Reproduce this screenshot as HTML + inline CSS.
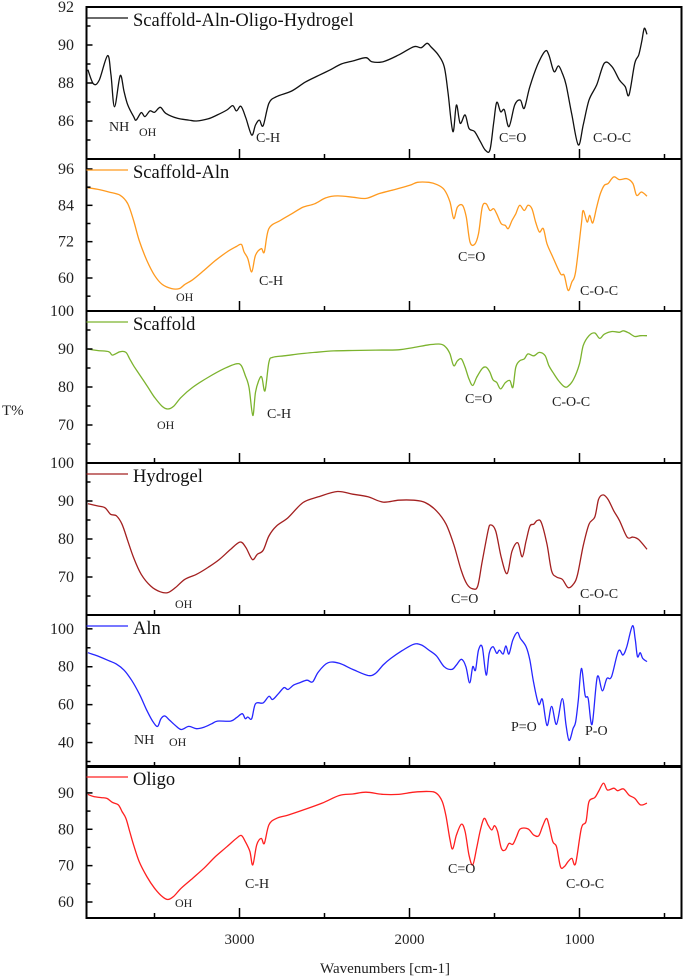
<!DOCTYPE html>
<html><head><meta charset="utf-8">
<style>
html,body{margin:0;padding:0;background:#fff;}
svg{display:block;font-family:"Liberation Serif",serif;}
</style></head>
<body>
<svg id="chart" width="685" height="978" viewBox="0 0 685 978" xmlns="http://www.w3.org/2000/svg"></svg>
<script>
// ---- data (wavenumber cm-1, transmittance %) ----
const names = ["Scaffold-Aln-Oligo-Hydrogel","Scaffold-Aln","Scaffold","Hydrogel","Aln","Oligo"];
const colors = ["#111111","#ff9a1f","#7cb32e","#a32020","#2626ff","#ff2020"];
const xTicksLabeled = [3000,2000,1000];

const wn1=[3892,3859,3825,3776,3756,3735,3702,3679,3657,3623,3608,3578,3556,3527,3500,3466,3433,3365,3298,3253,3186,3130,3074,3040,3018,2991,2962,2928,2906,2883,2861,2827,2783,2693,2614,2536,2469,2401,2334,2256,2222,2155,2065,1975,1931,1897,1875,1830,1796,1774,1745,1724,1702,1673,1650,1617,1583,1554,1527,1505,1487,1464,1442,1415,1381,1348,1325,1292,1247,1202,1180,1150,1124,1101,1079,1045,1007,978,944,899,854,809,765,731,709,675,652,634,619,603];
const t1=[88.7,87.95,88.16,89.44,88.42,86.75,88.39,87.54,86.84,86.23,86.05,86.44,86.23,86.53,86.46,86.72,86.4,86.14,86.05,86.0,86.11,86.32,86.58,86.81,86.53,86.77,86.14,85.26,85.79,86.05,85.75,86.93,87.28,87.58,88.04,88.39,88.68,89.0,89.16,89.33,89.12,89.12,89.47,89.91,89.86,90.09,89.91,89.47,88.86,87.54,85.44,86.84,85.88,86.32,85.61,85.44,84.91,84.47,84.47,85.88,86.98,86.49,86.58,85.7,86.84,87.1,86.67,87.81,88.95,89.68,89.47,88.6,88.9,88.51,87.9,86.32,84.74,85.79,87.1,87.9,89.04,88.86,88.16,87.81,87.37,89.04,89.47,90.18,90.88,90.56];

const wn2=[3892,3836,3769,3702,3657,3623,3590,3545,3500,3455,3399,3354,3321,3276,3209,3141,3074,3018,2989,2973,2951,2928,2906,2872,2854,2827,2760,2693,2626,2558,2491,2424,2334,2256,2177,2088,1998,1953,1886,1841,1796,1762,1740,1718,1688,1666,1644,1617,1594,1572,1549,1527,1505,1487,1460,1437,1419,1397,1375,1352,1325,1303,1280,1258,1236,1213,1191,1157,1112,1090,1067,1045,1023,989,978,955,940,922,899,877,854,832,798,765,720,686,664,635,603];
const t2=[89.8,89.3,88.4,87.3,84.5,79.0,72.4,65.8,60.9,57.9,56.5,56.5,57.9,59.4,62.5,65.8,68.6,70.4,71.1,68.6,66.4,62.0,67.5,69.7,68.6,76.3,79.0,81.2,83.4,84.5,86.5,87.1,86.7,86.3,87.9,89.2,90.6,91.6,91.6,90.9,89.2,85.1,79.6,83.4,84.0,80.1,71.9,71.1,74.6,83.4,84.5,82.3,82.9,81.2,77.9,77.4,76.3,79.0,81.2,84.0,82.3,84.0,82.9,78.5,75.2,76.3,71.3,66.9,61.4,60.9,55.9,58.7,62.0,77.9,82.3,78.5,80.7,78.2,83.4,87.9,90.6,91.2,93.4,92.5,92.8,91.2,87.3,88.4,87.0];

const wn3=[3892,3836,3769,3747,3702,3668,3646,3623,3590,3545,3500,3455,3422,3388,3343,3276,3186,3096,3018,2989,2966,2944,2922,2906,2883,2868,2850,2827,2805,2738,2648,2558,2446,2334,2200,2065,1975,1886,1818,1785,1762,1740,1718,1695,1673,1650,1628,1605,1572,1549,1527,1509,1487,1464,1437,1410,1392,1375,1352,1325,1303,1269,1236,1202,1180,1157,1124,1090,1067,1034,1000,978,944,910,881,854,809,765,742,709,675,641,603];
const t3=[90.0,89.6,89.3,88.4,89.3,89.1,87.4,85.6,83.4,80.4,77.3,74.9,74.2,74.9,77.3,79.9,82.5,84.7,86.1,85.6,83.0,79.9,72.5,78.6,82.1,82.5,79.0,86.5,87.8,88.2,88.7,89.1,89.5,89.6,89.7,89.8,90.4,91.1,91.3,90.4,88.7,85.6,86.9,87.4,85.2,82.1,80.4,82.5,84.9,85.2,83.9,81.9,81.2,79.5,81.1,81.7,79.9,85.2,86.9,87.4,88.7,88.2,89.1,88.2,85.6,83.9,81.7,80.1,80.2,82.1,86.1,90.9,93.5,94.2,92.8,93.9,94.6,94.4,94.8,94.2,93.3,93.5,93.5];

const wn4=[3892,3836,3791,3758,3724,3691,3657,3623,3578,3522,3466,3422,3377,3321,3253,3186,3119,3052,2996,2962,2924,2895,2861,2827,2783,2715,2626,2536,2424,2334,2244,2155,2065,1975,1908,1841,1785,1740,1695,1662,1628,1599,1572,1538,1523,1493,1460,1426,1397,1363,1337,1314,1292,1269,1247,1224,1191,1164,1135,1101,1067,1034,1011,978,944,910,888,861,832,798,765,720,686,653,603];
const t4=[89.3,88.7,88.2,86.5,86.1,83.9,79.5,75.1,70.7,67.6,66.1,65.9,67.2,69.4,70.7,72.5,74.6,77.3,79.2,77.7,74.6,76.0,77.0,80.8,83.4,85.6,89.6,91.1,92.5,91.8,91.1,89.7,90.2,90.2,89.6,87.4,83.9,78.6,71.6,68.1,66.9,67.6,74.2,82.1,83.7,82.1,75.1,70.9,76.8,79.0,75.3,79.5,83.4,83.9,84.9,84.3,78.6,71.6,70.0,69.4,67.2,68.2,70.7,78.2,83.9,85.8,90.4,91.6,90.4,87.4,84.9,80.5,80.5,79.9,77.3];

const wn5=[3892,3836,3769,3724,3679,3635,3590,3545,3511,3482,3462,3439,3410,3377,3343,3298,3253,3209,3164,3130,3052,3018,2984,2966,2951,2928,2906,2861,2827,2805,2771,2738,2715,2682,2648,2603,2570,2536,2480,2413,2334,2244,2200,2155,2110,2043,1975,1931,1886,1841,1796,1751,1724,1695,1668,1646,1628,1612,1594,1572,1549,1531,1509,1487,1471,1449,1433,1415,1392,1365,1348,1314,1292,1269,1240,1218,1191,1164,1135,1101,1079,1061,1038,1023,1007,989,967,949,926,895,866,839,812,771,744,722,688,672,659,643,628,603];
const t5=[87.4,85.7,83.2,81.4,78.2,72.9,65.8,57.0,51.3,48.5,52.6,54.0,51.7,49.0,46.9,48.5,47.3,48.1,49.9,51.3,51.3,53.1,55.2,52.6,53.5,52.6,60.5,60.9,64.4,62.7,65.8,69.0,68.0,70.3,71.5,72.9,72.0,77.3,82.1,81.8,78.6,75.4,76.5,80.9,84.4,88.5,91.9,91.5,88.8,85.7,80.0,78.6,80.9,83.9,80.0,71.5,80.0,78.2,88.8,90.3,75.6,87.1,90.6,87.1,88.8,86.7,91.0,86.7,94.2,98.1,95.0,90.6,83.5,71.2,60.2,62.7,49.0,59.1,49.6,63.2,49.0,41.1,47.3,50.8,62.3,79.1,65.0,63.2,49.6,74.7,67.3,73.8,74.7,88.3,86.2,90.6,101.6,94.2,85.3,87.4,84.4,82.7];

const wn6=[3892,3859,3814,3780,3747,3713,3691,3668,3646,3623,3590,3545,3500,3455,3422,3388,3343,3276,3209,3141,3074,3018,2989,2966,2939,2922,2899,2872,2854,2827,2783,2715,2626,2514,2413,2334,2256,2155,2065,1975,1886,1841,1807,1785,1762,1746,1724,1695,1673,1650,1628,1605,1583,1561,1538,1516,1500,1482,1460,1437,1415,1392,1370,1348,1303,1269,1240,1218,1195,1180,1157,1135,1112,1090,1067,1045,1023,989,962,944,910,888,859,836,798,776,742,709,675,641,603];
const t6=[89.6,89.0,88.7,88.5,87.4,86.7,84.9,83.0,79.4,75.7,71.1,67.0,63.8,61.5,60.7,61.5,63.8,66.5,69.3,72.5,75.2,77.5,78.3,76.6,73.9,70.2,75.7,77.5,76.1,81.2,83.0,83.9,85.3,87.2,89.3,89.7,90.2,89.6,89.6,90.2,90.4,89.9,87.6,83.5,77.1,74.6,78.4,81.4,79.4,72.9,70.2,74.8,79.8,83.0,81.2,79.8,81.0,79.4,74.8,74.3,76.1,75.9,78.0,80.1,80.1,78.4,78.2,80.7,83.0,81.2,76.6,75.2,69.7,69.7,71.1,72.0,70.6,80.3,82.1,87.6,88.7,90.4,92.7,90.8,91.3,90.6,91.1,89.4,88.5,86.7,87.2];

const yMajor1=[92,90,88,86], yMajor2=[96,84,72,60], yMajor3=[100,90,80,70], yMajor4=[100,90,80,70], yMajor5=[100,80,60,40], yMajor6=[90,80,70,60];
const yMinor1=[91,89,87,85], yMinor2=[90,78,66,54], yMinor3=[95,85,75,65], yMinor4=[95,85,75,65], yMinor5=[90,70,50,30], yMinor6=[85,75,65];

// ---- layout ----
const NS="http://www.w3.org/2000/svg";
const svg=document.getElementById('chart');
const X0=86.5, X1=681.5, WN0=3900, WN1=400;
const tops=[7,159,311,463,615,766];
const H=152;
const ranges=[[92,84],[99.3,49.1],[100,60],[100,60],[107.3,27.1],[97.4,55.6]];
const series=[[wn1,t1],[wn2,t2],[wn3,t3],[wn4,t4],[wn5,t5],[wn6,t6]];
const majors=[yMajor1,yMajor2,yMajor3,yMajor4,yMajor5,yMajor6];
const minors=[yMinor1,yMinor2,yMinor3,yMinor4,yMinor5,yMinor6];
function xs(w){return X0+(WN0-w)/(WN0-WN1)*(X1-X0);}
function ys(p,v){const r=ranges[p];return tops[p]+(r[0]-v)/(r[0]-r[1])*H;}
function mk(tag,attrs){const e=document.createElementNS(NS,tag);for(const k in attrs)e.setAttribute(k,attrs[k]);svg.appendChild(e);return e;}
function smoothPath(pts){
  let d='M'+pts[0][0].toFixed(1)+','+pts[0][1].toFixed(1);
  for(let i=0;i<pts.length-1;i++){
    const p0=pts[Math.max(0,i-1)],p1=pts[i],p2=pts[i+1],p3=pts[Math.min(pts.length-1,i+2)];
    const c1x=p1[0]+(p2[0]-p0[0])/6,c1y=p1[1]+(p2[1]-p0[1])/6;
    const c2x=p2[0]-(p3[0]-p1[0])/6,c2y=p2[1]-(p3[1]-p1[1])/6;
    d+='C'+c1x.toFixed(1)+','+c1y.toFixed(1)+' '+c2x.toFixed(1)+','+c2y.toFixed(1)+' '+p2[0].toFixed(1)+','+p2[1].toFixed(1);
  }
  return d;
}

const annots=[
 [["NH",109,131,14],["OH",139,136,12],["C-H",256,142,14],["C=O",499,142,14],["C-O-C",593,142,14]],
 [["OH",176,301,12],["C-H",259,285,14],["C=O",458,261,14],["C-O-C",580,295,14]],
 [["OH",157,429,12],["C-H",267,418,14],["C=O",465,403,14],["C-O-C",552,406,14]],
 [["OH",175,608,12],["C=O",451,603,14],["C-O-C",580,598,14]],
 [["NH",134,744,14],["OH",169,746,12],["P=O",511,731,14],["P-O",585,735,14]],
 [["OH",175,907,12],["C-H",245,888,14],["C=O",448,873,14],["C-O-C",566,888,14]]
];

for(let p=0;p<6;p++){
  const top=tops[p], bot=top+H;
  const [w,t]=series[p];
  const pts=w.map((wv,i)=>[xs(wv),ys(p,t[i])]);
  const path=mk('path',{d:smoothPath(pts),fill:'none',stroke:colors[p],'stroke-width':1.3,'stroke-linejoin':'round'});
  
  
  majors[p].forEach(v=>{
    const y=ys(p,v);
    const tk=mk('line',{x1:X0,x2:X0+6,y1:y,y2:y,stroke:'#000','stroke-width':1.5});
    
    
    const lb=mk('text',{x:74,y:y+5,'text-anchor':'end','font-size':16,fill:'#222'});
    lb.textContent=v;
    
    
  });
  minors[p].forEach(v=>{
    const y=ys(p,v);
    if(y<top+1||y>bot-1) return;
    const tk=mk('line',{x1:X0,x2:X0+4,y1:y,y2:y,stroke:'#000','stroke-width':1.5});
    
    
  });
  for(let wv=3500; wv>=500; wv-=500){
    const x=xs(wv), len=(wv%1000===0)?10:5;
    const tk=mk('line',{x1:x,x2:x,y1:bot,y2:bot-len,stroke:'#000','stroke-width':1.5});
    
    
  }
  const fr=mk('rect',{x:X0,y:top,width:X1-X0,height:H,fill:'none',stroke:'#000','stroke-width':2});
  
  
  const ll=mk('line',{x1:X0,x2:128,y1:top+11,y2:top+11,stroke:colors[p],'stroke-width':1.3});
  
  
  const lt=mk('text',{x:133,y:top+19,'font-size':18.5,fill:'#111'});
  lt.textContent=names[p];
  
  
  annots[p].forEach(a=>{
    const at=mk('text',{x:a[1],y:a[2],'font-size':a[3],fill:'#222'});
    at.textContent=a[0];
    
    
  });
}
xTicksLabeled.forEach(v=>{
  const lb=mk('text',{x:xs(v),y:944,'text-anchor':'middle','font-size':15,fill:'#222'});
  lb.textContent=v;
  
  
});
const xt=mk('text',{x:385,y:973,'text-anchor':'middle','font-size':15,fill:'#222'});
xt.textContent='Wavenumbers [cm-1]';


const yt=mk('text',{x:2,y:415,'font-size':15,fill:'#222'});
yt.textContent='T%';


</script>
</body></html>
